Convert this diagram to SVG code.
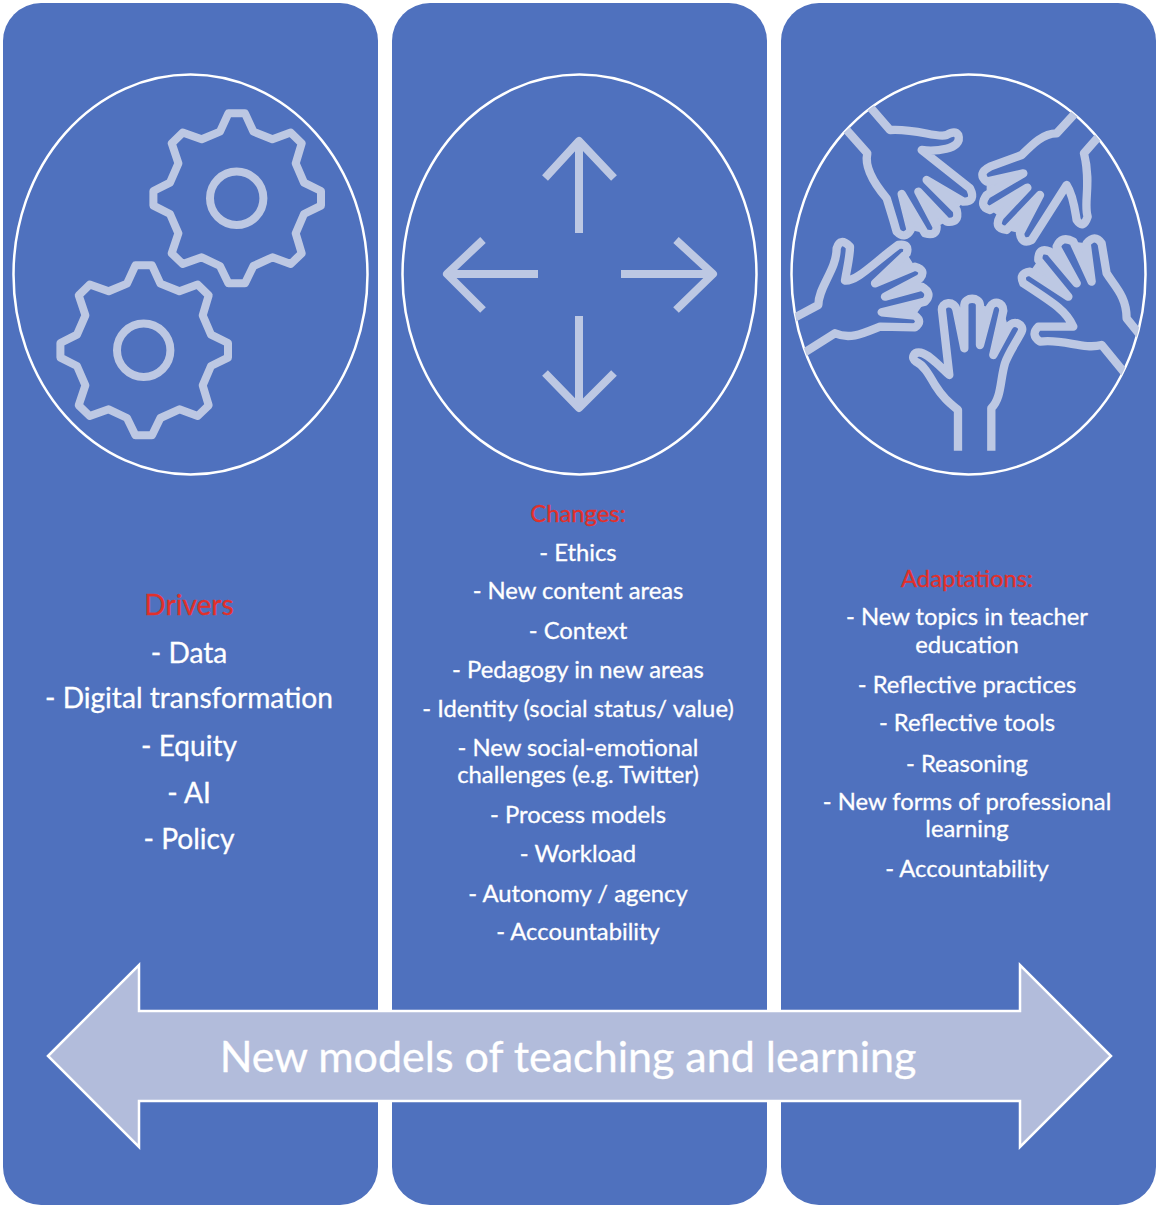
<svg xmlns="http://www.w3.org/2000/svg" xmlns:xlink="http://www.w3.org/1999/xlink" width="1158" height="1206" viewBox="0 0 1158 1206">
<style>
.panel{fill:#4f71be}
.circle{fill:none;stroke:#fff;stroke-width:2.5}
.icon{fill:none;stroke:#bdc8e3;stroke-width:8;stroke-linejoin:round}
.hand{fill:none;stroke:#bdc8e3;stroke-width:25;stroke-linejoin:round}
.gap{fill:#bdc8e3;stroke:none}
.t{font-family:"Lato","Liberation Sans",sans-serif;fill:#fff;text-anchor:middle;stroke:#fff;stroke-width:.3}
.s2{font-size:23.8px}
.s1{font-size:28.1px}
.red{fill:#e2302a;stroke:#e2302a}
</style>
<defs>
<clipPath id="c3"><ellipse cx="968.5" cy="274.5" rx="177" ry="200"/></clipPath>
<polygon id="gear" points="-8.3,-85 8.3,-85 16.7,-66.7 35.7,-59 54,-65.7 65,-55 59,-35 67.3,-15.7 84.3,-7.3 84.3,7.3 67.3,15.7 59,35 65,55 54,65.7 35.7,59 16.7,67.7 8.3,85 -8.3,85 -16.7,67.7 -35,59 -54,65.7 -65,55 -58.3,35 -66.7,15.7 -83.3,7.3 -83.3,-7.3 -66.7,-15.7 -58.3,-35 -65,-55 -54,-65.7 -35,-59 -16.7,-66.7"/>
</defs>
<g id="panel-drivers"><rect class="panel" x="3" y="3" width="375" height="1202" rx="38"/>
<ellipse class="circle" cx="190.5" cy="274.5" rx="177" ry="200"/>
<g class="icon"><use xlink:href="#gear" href="#gear" x="236.7" y="198.3"/><circle cx="236.7" cy="198.3" r="26.7"/><use xlink:href="#gear" href="#gear" x="143.7" y="350.3"/><circle cx="143.7" cy="350.3" r="26.7"/></g>
<g class="s1"><text class="t red" x="189" y="615">Drivers</text>
<text class="t" x="189" y="663">- Data</text>
<text class="t" x="189" y="708">- Digital transformation</text>
<text class="t" x="189" y="756">- Equity</text>
<text class="t" x="189" y="803">- AI</text>
<text class="t" x="189" y="849">- Policy</text></g>
</g>
<g id="panel-changes"><rect class="panel" x="392" y="3" width="375" height="1202" rx="38"/>
<ellipse class="circle" cx="579.5" cy="274.5" rx="177" ry="200"/>
<g class="icon"><path d="M579,233V141M545,178L579,141L614,178"/><path d="M579,316V408M545,373L579,408L614,373"/><path d="M538,274H447M483,240L447,274L483,310"/><path d="M621,274H713M676,240L713,274L676,310"/></g>
<g class="s2"><text class="t red" x="578" y="522">Changes:</text>
<text class="t" x="578" y="561">- Ethics</text>
<text class="t" x="578" y="599">- New content areas</text>
<text class="t" x="578" y="639">- Context</text>
<text class="t" x="578" y="678">- Pedagogy in new areas</text>
<text class="t" x="578" y="717">- Identity (social status/ value)</text>
<text class="t" x="578" y="756">- New social-emotional</text>
<text class="t" x="578" y="783">challenges (e.g. Twitter)</text>
<text class="t" x="578" y="823">- Process models</text>
<text class="t" x="578" y="862">- Workload</text>
<text class="t" x="578" y="902">- Autonomy / agency</text>
<text class="t" x="578" y="940">- Accountability</text></g>
</g>
<g id="panel-adaptations"><rect class="panel" x="781" y="3" width="375" height="1202" rx="38"/>
<ellipse class="circle" cx="968.5" cy="274.5" rx="177" ry="200"/>
<g clip-path="url(#c3)"><g transform="translate(790,70) scale(.3333)">
<path class="gap" d="M500,722L523,835L523,705ZM570,705L570,825L600,712ZM640,722L610,855L655,772ZM362,480L335,372L405,490ZM440,470L385,365L470,455ZM500,420L410,330L520,395ZM590,335L700,310L590,375ZM600,420L712,353L630,440ZM650,480L750,375L690,490ZM350,550L255,640L375,590ZM390,625L285,680L395,650ZM405,695L275,727L375,737ZM720,605L835,680L745,570ZM780,545L860,640L800,530ZM850,515L905,635L890,520Z"/>
<g class="hand">
<path d="M504,1142V1020C480,1000 460,985 435,945C415,910 400,885 378,875C362,865 370,845 392,848C420,855 450,890 478,915L456,722C452,695 495,690 500,722L523,835L523,705C525,680 568,680 570,705L570,825L600,712C610,690 640,695 640,722L610,855L655,772C670,745 705,765 695,785C680,815 655,850 645,880C630,930 635,985 604,1015V1142"/>
<path d="M170,180L232,250C225,280 235,320 290,385L310,450L320,485Q345,510 362,480L335,372L405,490Q440,500 440,470L385,365L470,455Q510,460 500,420L410,330L520,395Q560,395 540,355L395,240C430,245 520,240 505,195Q495,180 470,195C440,205 380,175 300,180L235,105"/>
<path d="M860,125L800,190C760,190 730,220 695,255L600,290Q560,310 590,335L700,310L590,375Q565,410 600,420L712,353L630,440Q610,475 650,480L750,375L690,490Q695,525 725,510L830,345C850,375 855,420 860,450Q880,480 893,440C880,400 905,340 882,250L930,195"/>
<path d="M10,745L85,705C85,650 140,600 140,535Q150,500 180,530C180,560 170,600 165,632C200,635 250,580 325,525Q360,520 350,550L255,640L375,590Q410,600 390,625L285,680L395,650Q430,670 405,695L275,727L375,737Q400,755 375,772L270,770C220,790 180,810 135,790L40,850"/>
<path d="M1005,910L935,825C880,840 820,805 750,815Q720,795 745,770L850,770C830,725 800,705 700,640Q685,610 720,605L835,680L745,570Q745,530 780,545L860,640L800,530Q815,495 850,515L905,635L890,520Q915,490 935,520L950,610C975,650 1010,680 1010,745L1050,795"/>
</g></g></g>
<g class="s2"><text class="t red" x="967" y="587">Adaptations:</text>
<text class="t" x="967" y="625">- New topics in teacher</text>
<text class="t" x="967" y="653">education</text>
<text class="t" x="967" y="693">- Reflective practices</text>
<text class="t" x="967" y="731">- Reflective tools</text>
<text class="t" x="967" y="772">- Reasoning</text>
<text class="t" x="967" y="810">- New forms of professional</text>
<text class="t" x="967" y="837">learning</text>
<text class="t" x="967" y="877">- Accountability</text></g>
</g>
<g id="arrow-new-models"><polygon points="48,1056 139,965 139,1011 1020,1011 1020,965 1111,1056 1020,1147 1020,1101 139,1101 139,1147" fill="#b2bcdb" stroke="#fff" stroke-width="2.5"/>
<text class="t" x="568" y="1072" font-size="43">New models of teaching and learning</text></g>
</svg>
